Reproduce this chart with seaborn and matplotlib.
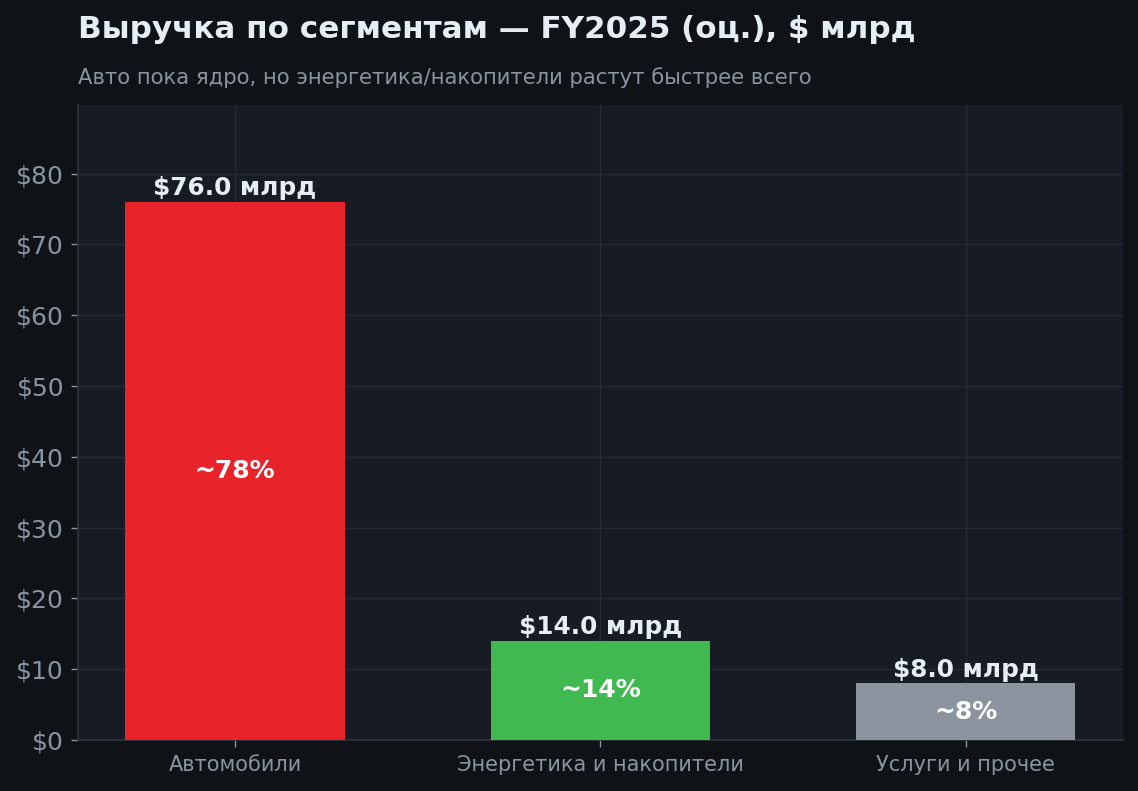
import matplotlib
matplotlib.use("Agg")
import matplotlib.pyplot as plt
import seaborn as sns
import pandas as pd
from matplotlib.ticker import FuncFormatter

categories = ["Автомобили", "Энергетика и накопители", "Услуги и прочее"]
revenue = [76.0, 14.0, 8.0]
shares = ["~78%", "~14%", "~8%"]
colors = ["#e8232a", "#3fb950", "#8b949e"]

title = "Выручка по сегментам — FY2025 (оц.), $ млрд"
subtitle = "Авто пока ядро, но энергетика/накопители растут быстрее всего"

FIG_BG = "#0f1318"
AX_BG = "#171b24"
TXT = "#e6edf3"
MUTED = "#8b949e"
GRID = "#262b35"
SPINE = "#30363d"

sns.set_theme(style="dark")
plt.rcParams["font.family"] = ["DejaVu Sans"]

df = pd.DataFrame({"cat": categories, "rev": revenue})

fig = plt.figure(figsize=(11.38, 7.91), dpi=100, facecolor=FIG_BG)
ax = fig.add_axes([0.0685, 0.0645, 0.9183, 0.8028])
ax.set_facecolor(AX_BG)

sns.barplot(data=df, x="cat", y="rev", hue="cat", palette=colors, legend=False,
            width=0.6, ax=ax, saturation=1, zorder=3, linewidth=0, edgecolor="none")

ax.set_xlim(-0.43, 2.43)
ax.set_ylim(0, max(revenue) * 1.18)
ax.yaxis.set_major_formatter(FuncFormatter(lambda v, p: f"${v:.0f}"))

ax.grid(True, color=GRID, linewidth=1, zorder=0)
ax.set_axisbelow(True)
for s in ["top", "right"]:
    ax.spines[s].set_visible(False)
for s in ["left", "bottom"]:
    ax.spines[s].set_visible(True)
    ax.spines[s].set_color(SPINE)
    ax.spines[s].set_linewidth(1.2)

ax.tick_params(axis="y", colors=MUTED, labelsize=18, length=5, width=1, left=True, pad=5)
ax.tick_params(axis="x", colors=MUTED, labelsize=15, length=5, width=1, bottom=True, pad=6)
ax.set_xlabel("")
ax.set_ylabel("")

for i, (v, s) in enumerate(zip(revenue, shares)):
    ax.annotate(f"${v:.1f} млрд", (i, v), xytext=(0, 1), textcoords="offset points",
                ha="center", va="bottom", fontsize=17.8, fontweight="bold", color=TXT, zorder=5)
    ax.text(i, v / 2, s, ha="center", va="center", fontsize=18, fontweight="bold",
            color="white", zorder=5)

fig.text(0.0685, 0.963, title, ha="left", va="center", fontsize=22.3, fontweight="bold", color=TXT)
fig.text(0.0685, 0.902, subtitle, ha="left", va="center", fontsize=15.25, color=MUTED)

fig.savefig("out.png", dpi=100, facecolor=FIG_BG)
